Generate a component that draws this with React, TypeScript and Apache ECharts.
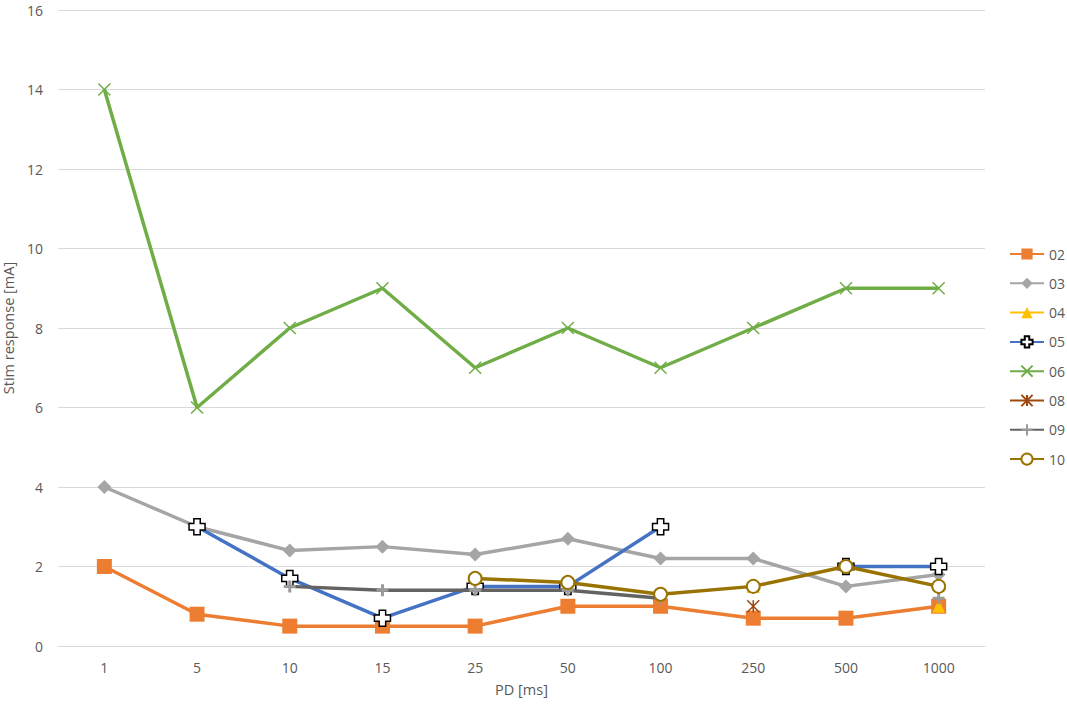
import React, { useEffect, useRef } from "react";
import * as echarts from "echarts";

const categories = ["1", "5", "10", "15", "25", "50", "100", "250", "500", "1000"];
const s02 = [2, 0.8, 0.5, 0.5, 0.5, 1, 1, 0.7, 0.7, 1];
const s03 = [4, 3, 2.4, 2.5, 2.3, 2.7, 2.2, 2.2, 1.5, 1.8];
const s04 = [null, null, null, null, null, null, null, 1.5, null, 1.0];
const s05 = [null, 3, 1.7, 0.7, 1.5, 1.5, 3, null, 2, 2];
const s06 = [14, 6, 8, 9, 7, 8, 7, 8, 9, 9];
const s08 = [null, null, null, null, null, null, null, 1.0, null, null];
const s09 = [null, null, 1.5, 1.4, 1.4, 1.4, 1.2, null, null, 1.2];
const s10 = [null, null, null, null, 1.7, 1.6, 1.3, 1.5, 2, 1.5];
const yTicks = [0, 2, 4, 6, 8, 10, 12, 14, 16];

const FONT = "'Open Sans', sans-serif";
const TXT = "#595959";

const PLUS_FILLED = "path://M3 0 H7 V3 H10 V7 H7 V10 H3 V7 H0 V3 H3 Z";
const X_SHAPE = "path://M0 0 L10 10 M10 0 L0 10";
const STAR = "path://M0 0 L10 10 M10 0 L0 10 M5 0 L5 10";
const PLUS = "path://M5 0 L5 10 M0 5 L10 5";

export default function App() {
  const ref = useRef<HTMLDivElement>(null);
  useEffect(() => {
    document.body.style.margin = "0";
    if (!ref.current) return;
    const chart = echarts.init(ref.current, undefined, { renderer: "svg" });
    const mk = (
      name: string,
      data: (number | null)[],
      color: string,
      symbol: string,
      symbolSize: number,
      itemStyle: any,
      z: number
    ) => ({
      name,
      type: "line",
      data,
      symbol,
      symbolSize,
      showAllSymbol: true,
      connectNulls: false,
      z,
      lineStyle: { color, width: 3.5 },
      itemStyle,
      emphasis: { disabled: true },
    });
    chart.setOption({
      animation: false,
      textStyle: { fontFamily: FONT },
      grid: { left: 58, right: 82, top: 10, bottom: 58, outerBoundsMode: "none", containLabel: false },
      legend: {
        orient: "vertical",
        left: 1009,
        top: 247,
        padding: 0,
        itemWidth: 34,
        itemHeight: 14,
        itemGap: 15.3,
        textStyle: { color: TXT, fontSize: 14, fontFamily: FONT },
        data: ["02", "03", "04", "05", "06", "08", "09", "10"],
      },
      xAxis: {
        type: "category",
        data: categories,
        name: "PD [ms]",
        nameLocation: "middle",
        nameGap: 36,
        nameTextStyle: { color: TXT, fontSize: 14.5, fontFamily: FONT },
        axisLine: { lineStyle: { color: "#d9d9d9", width: 1 } },
        axisTick: { show: false },
        axisLabel: { color: TXT, fontSize: 14, fontFamily: FONT, margin: 14 },
      },
      yAxis: {
        type: "value",
        min: yTicks[0],
        max: yTicks[yTicks.length - 1],
        interval: 2,
        name: "Stim response [mA]",
        nameLocation: "middle",
        nameGap: 36,
        nameTextStyle: { color: TXT, fontSize: 14.5, fontFamily: FONT },
        axisLine: { show: false },
        axisTick: { show: false },
        axisLabel: { color: TXT, fontSize: 14, fontFamily: FONT, margin: 15 },
        splitLine: { lineStyle: { color: "#d9d9d9", width: 1 } },
      },
      series: [
        mk("02", s02, "#ED7D31", "rect", 15, { color: "#ED7D31" }, 2),
        mk("03", s03, "#A5A5A5", "diamond", 14, { color: "#A5A5A5" }, 3),
        mk("04", s04, "#FFC000", "triangle", 13, { color: "#FFC000" }, 4),
        mk("05", s05, "#4472C4", PLUS_FILLED, 16, { color: "#ffffff", borderColor: "#000000", borderWidth: 1.5 }, 5),
        mk("06", s06, "#70AD47", X_SHAPE, 12, { color: "rgba(0,0,0,0)", borderColor: "#70AD47", borderWidth: 1.5 }, 6),
        mk("08", s08, "#9E480E", STAR, 12, { color: "rgba(0,0,0,0)", borderColor: "#9E480E", borderWidth: 1.5 }, 7),
        mk("09", s09, "#636363", PLUS, 12, { color: "rgba(0,0,0,0)", borderColor: "#9a9a9a", borderWidth: 3 }, 8),
        mk("10", s10, "#997300", "emptyCircle", 13, { color: "#997300", borderColor: "#997300", borderWidth: 1.5 }, 9),
      ],
    });
    return () => chart.dispose();
  }, []);
  return <div ref={ref} style={{ width: 1067, height: 704 }} />;
}
